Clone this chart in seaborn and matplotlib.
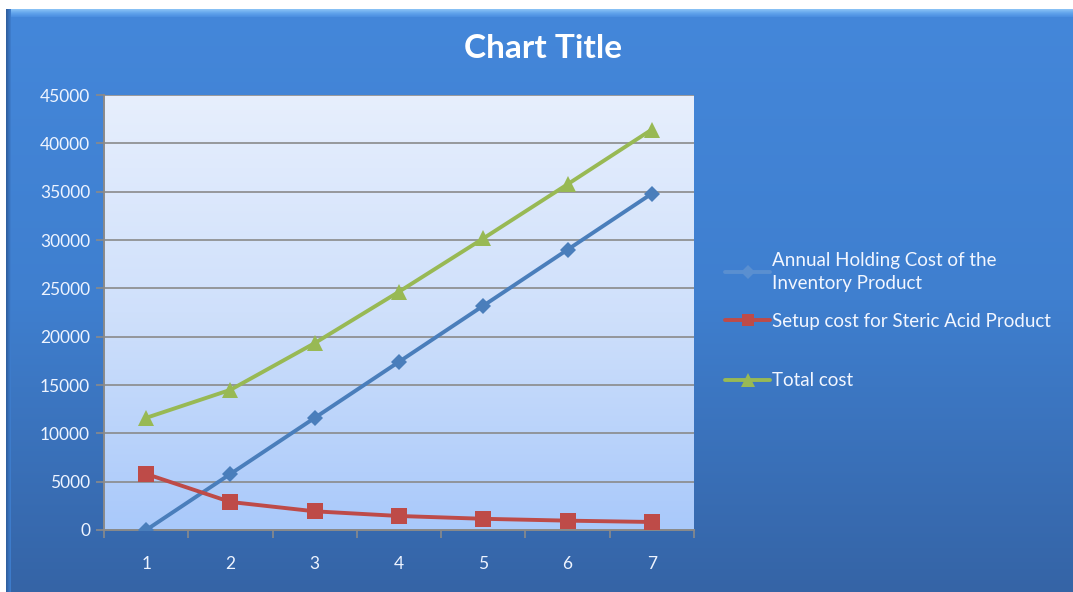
import numpy as np
import pandas as pd
import matplotlib
matplotlib.use("Agg")
import matplotlib.pyplot as plt
from matplotlib.colors import LinearSegmentedColormap
from matplotlib.lines import Line2D
import seaborn as sns

# Lot-count scenarios and the cost series for each
periods = [1, 2, 3, 4, 5, 6, 7]
holding_cost = [0, 5800, 11600, 17400, 23200, 29000, 34800]
setup_cost = [5800, 2900, 1933, 1450, 1160, 967, 829]
total_cost = [11600, 14500, 19333, 24650, 30160, 35767, 41429]

series_names = [
    "Annual Holding Cost of the\nInventory Product",
    "Setup cost for Steric Acid Product",
    "Total cost",
]
y_ticks = [0, 5000, 10000, 15000, 20000, 25000, 30000, 35000, 40000, 45000]

sns.set_theme(style="white")
plt.rcParams["font.family"] = ["Lato", "DejaVu Sans"]

df = pd.DataFrame({
    "period": periods * 3,
    "cost": holding_cost + setup_cost + total_cost,
    "series": [series_names[0]] * 7 + [series_names[1]] * 7 + [series_names[2]] * 7,
})

W, H = 1073, 592
fig = plt.figure(figsize=(W / 100, H / 100), dpi=100)
fig.patch.set_facecolor("white")

# Chart-area background: blue vertical gradient with a light bevel on top
bg = fig.add_axes([6 / W, 0, 1 - 6 / W, 1 - 9 / H], zorder=-10)
bg_cmap = LinearSegmentedColormap.from_list("bg", ["#4487da", "#3f7fcf", "#3564a6"])
bg.imshow(np.linspace(0, 1, 256).reshape(-1, 1), cmap=bg_cmap, aspect="auto",
          extent=[0, 1, 0, 1], origin="upper")
bg.set_axis_off()
bevel = fig.add_axes([6 / W, 1 - 17 / H, 1 - 6 / W, 8 / H], zorder=-9)
bev_cmap = LinearSegmentedColormap.from_list("bev", ["#8cc4f6", "#62a4ec", "#4a8ee0"])
bevel.imshow(np.linspace(0, 1, 64).reshape(-1, 1), cmap=bev_cmap, aspect="auto",
             extent=[0, 1, 0, 1], origin="upper")
bevel.set_axis_off()
edge = fig.add_axes([6 / W, 0, 4 / W, 1 - 9 / H], zorder=-8)
edge.imshow(np.linspace(0, 1, 32).reshape(1, -1),
            cmap=LinearSegmentedColormap.from_list("edge", ["#2f5d9c", "#3f7fcf"]),
            aspect="auto", extent=[0, 1, 0, 1])
edge.set_axis_off()

ax = fig.add_axes([104 / W, 1 - 530 / H, 590 / W, 435 / H])
ax.set_xlim(0.5, 7.5)
ax.set_ylim(0, 45000)

# Plot-area gradient
pa_cmap = LinearSegmentedColormap.from_list("pa", ["#e7effd", "#cfe0fb", "#a9c9fa"])
ax.imshow(np.linspace(0, 1, 256).reshape(-1, 1), cmap=pa_cmap, aspect="auto",
          extent=[0.5, 7.5, 0, 45000], origin="upper", zorder=0)

palette = {series_names[0]: "#4a7ebb", series_names[1]: "#be4b48", series_names[2]: "#98b954"}
markers = {series_names[0]: "D", series_names[1]: "s", series_names[2]: "^"}
sizes = {series_names[0]: 8, series_names[1]: 11, series_names[2]: 12}

for name in series_names:
    sub = df[df["series"] == name]
    sns.lineplot(data=sub, x="period", y="cost", ax=ax, color=palette[name],
                 marker=markers[name], markersize=sizes[name], markeredgewidth=0,
                 linewidth=2.8, legend=False, zorder=3)

ax.yaxis.grid(True, color="#8a8a8a", linewidth=1.2, zorder=1)
ax.set_axisbelow(False)
ax.set_yticks(y_ticks)
ax.set_yticklabels([str(v) for v in y_ticks])
ax.set_xticks(periods)
ax.set_xticklabels([str(p) for p in periods])
ax.xaxis.set_minor_locator(matplotlib.ticker.FixedLocator(np.arange(0.5, 8, 1)))
ax.tick_params(axis="x", which="major", length=0, pad=19, labelsize=12.5, labelcolor="#eef4ff")
ax.tick_params(axis="x", which="minor", length=6, width=1.2, color="#8a8a8a", direction="out")
ax.tick_params(axis="y", length=6, width=1.2, color="#8a8a8a", direction="out",
               pad=4, labelsize=12.5, labelcolor="#eef4ff")
ax.tick_params(bottom=True, left=True, which="both")
for s in ["top", "right"]:
    ax.spines[s].set_visible(False)
for s in ["left", "bottom"]:
    ax.spines[s].set_color("#8a8a8a")
    ax.spines[s].set_linewidth(1.4)
ax.set_xlabel("")
ax.set_ylabel("")

fig.text(543 / W, 1 - 49 / H, "Chart Title", ha="center", va="center",
         fontsize=24, fontweight="bold", color="white")

# One legend per series so each entry sits at its own height
legend_y = [272, 321, 381]
handle_colors = ["#5a8fd0", palette[series_names[1]], palette[series_names[2]]]
for name, col, ypix in zip(series_names, handle_colors, legend_y):
    h = Line2D([], [], color=col, marker=markers[name], markersize=sizes[name] * 0.85,
               markeredgewidth=0, linewidth=2.8)
    leg = fig.legend([h], [name], loc="center left",
                     bbox_to_anchor=(712 / W, 1 - ypix / H), frameon=False,
                     handlelength=2.4, handletextpad=0.1, borderpad=0.2,
                     fontsize=13.5, labelcolor="#f2f6ff")
    for t in leg.get_texts():
        t.set_linespacing(1.45)

fig.savefig("out.png", dpi=100)
